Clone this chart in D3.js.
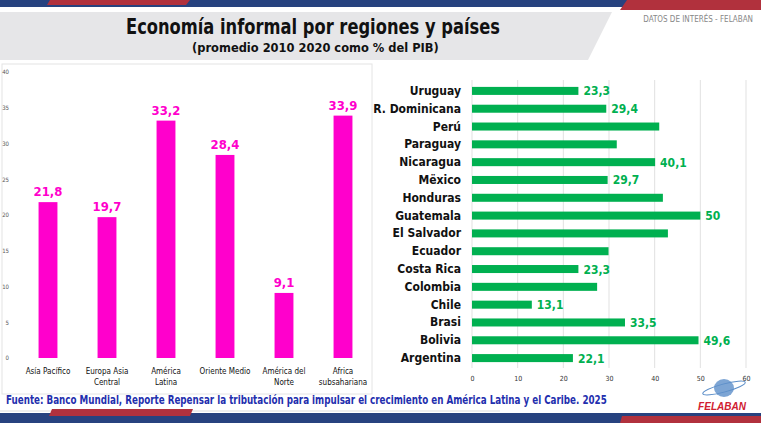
<!DOCTYPE html>
<html><head><meta charset="utf-8">
<script src="https://cdn.jsdelivr.net/npm/d3@7"></script>
<style>body{margin:0;background:#fff}svg{display:block}</style>
</head><body>
<svg id="c" width="761" height="423"></svg>
<script>
// left chart: regions
var regions = ["Asía Pacífico", "Europa Asia|Central", "América|Latina", "Oriente Medio", "América del|Norte", "Africa|subsahariana"];
var regionValues = [21.8, 19.7, 33.2, 28.4, 9.1, 33.9];
var regionTicks = [0, 5, 10, 15, 20, 25, 30, 35, 40];

// right chart: countries (top to bottom)
var countries = ["Uruguay", "R. Dominicana", "Perú", "Paraguay", "Nicaragua", "Mëxico", "Honduras", "Guatemala", "El Salvador", "Ecuador", "Costa Rica", "Colombia", "Chile", "Brasi", "Bolivia", "Argentina"];
var countryValues = [23.3, 29.4, 41, 31.7, 40.1, 29.7, 41.8, 50, 42.9, 29.9, 23.3, 27.4, 13.1, 33.5, 49.6, 22.1];
var countryLabels = ["23,3", "29,4", "", "", "40,1", "29,7", "", "50", "", "", "23,3", "", "13,1", "33,5", "49,6", "22,1"];
var countryTicks = [0, 10, 20, 30, 40, 50, 60];

var svg = d3.select("#c");
var narrow = "'DejaVu Sans Condensed', 'Liberation Sans Narrow', sans-serif";

// squeeze a text horizontally to a target width (scale, so its box shrinks too)
function fitWidth(sel, x, y, w) {
  var len = sel.node().getComputedTextLength();
  sel.attr("transform", "translate(" + x + "," + y + ") scale(" + (w / len) + ",1)");
}

// header decoration
svg.append("rect").attr("x", 0).attr("y", 0).attr("width", 761).attr("height", 7).attr("fill", "#27427f");
svg.append("path").attr("d", "M50,0 L190,0 L186,5 L47,5 Z").attr("fill", "#b1313d");
svg.append("path").attr("d", "M627,0 L761,0 L761,10 L620,10 Z").attr("fill", "#b1313d");
svg.append("path").attr("d", "M0,12 L612,12 L588,60 L0,60 Z").attr("fill", "#e6e6e8");
fitWidth(svg.append("text")
  .style("font-family", narrow).style("font-size", "21px").style("font-weight", "bold").attr("fill", "#111")
  .text("Economía informal por regiones y países"), 126, 34, 374);
fitWidth(svg.append("text")
  .style("font-family", narrow).style("font-size", "13px").style("font-weight", "bold").attr("fill", "#111")
  .text("(promedio 2010 2020 como % del PIB)"), 192, 52, 247);
svg.append("text").attr("x", 753).attr("y", 22).attr("text-anchor", "end")
  .style("font-family", narrow).style("font-size", "8px").attr("fill", "#888")
  .text("DATOS DE INTERÉS - FELABAN");

// left panel border
svg.append("rect").attr("x", 2).attr("y", 64).attr("width", 370).attr("height", 330)
  .attr("fill", "none").attr("stroke", "#e4e4e4");

// left chart
var lx = d3.scaleBand().domain(regions).range([18.5, 372.5]).paddingInner(0.68).paddingOuter(0.34);
var ly = d3.scaleLinear().domain([0, 40]).range([358, 72]);
var lg = svg.append("g");
lg.append("g").attr("transform", "translate(12,0)")
  .call(d3.axisLeft(ly).tickValues(regionTicks).tickSize(0))
  .call(function (g) { g.select(".domain").remove(); })
  .selectAll("text").style("font-family", narrow).style("font-size", "6px").attr("fill", "#555");
lg.selectAll("rect.bar").data(regionValues).enter().append("rect")
  .attr("x", function (d, i) { return lx(regions[i]); })
  .attr("y", function (d) { return ly(d); })
  .attr("width", lx.bandwidth())
  .attr("height", function (d) { return ly(0) - ly(d); })
  .attr("fill", "#ff00cc");
lg.selectAll("text.val").data(regionValues).enter().append("text")
  .attr("x", function (d, i) { return lx(regions[i]) + lx.bandwidth() / 2; })
  .attr("y", function (d) { return ly(d) - 6; })
  .attr("text-anchor", "middle").style("font-family", narrow).style("font-size", "13px")
  .style("font-weight", "bold").attr("fill", "#ff00cc")
  .text(function (d) { return String(d).replace(".", ","); });
regions.forEach(function (r, i) {
  var t = lg.append("text").attr("x", lx(r) + lx.bandwidth() / 2).attr("y", 374)
    .attr("text-anchor", "middle").style("font-family", narrow).style("font-size", "8px").attr("fill", "#111");
  r.split("|").forEach(function (s, j) {
    t.append("tspan").attr("x", lx(r) + lx.bandwidth() / 2).attr("dy", j ? 11 : 0).text(s);
  });
});

// right chart
var rx = d3.scaleLinear().domain([0, 60]).range([472, 746]);
var ry = d3.scaleBand().domain(countries).range([82, 367]).paddingInner(0.55).paddingOuter(0.275);
var rg = svg.append("g");
rg.selectAll("line.grid").data(countryTicks).enter().append("line")
  .attr("x1", function (d) { return rx(d); }).attr("x2", function (d) { return rx(d); })
  .attr("y1", 80).attr("y2", 368).attr("stroke", "#d9d9d9").attr("stroke-width", 0.8);
rg.append("g").attr("transform", "translate(0,368)")
  .call(d3.axisBottom(rx).tickValues(countryTicks).tickSize(0).tickPadding(8))
  .call(function (g) { g.select(".domain").remove(); })
  .selectAll("text").style("font-family", narrow).style("font-size", "7px").attr("fill", "#333");
rg.selectAll("rect.bar").data(countryValues).enter().append("rect")
  .attr("x", rx(0))
  .attr("y", function (d, i) { return ry(countries[i]); })
  .attr("width", function (d) { return rx(d) - rx(0); })
  .attr("height", ry.bandwidth())
  .attr("fill", "#00b050");
rg.selectAll("text.name").data(countries).enter().append("text")
  .attr("x", 461).attr("y", function (d) { return ry(d) + ry.bandwidth() / 2 + 4; })
  .attr("text-anchor", "end").style("font-family", narrow).style("font-size", "12px")
  .style("font-weight", "bold").attr("fill", "#111").text(function (d) { return d; });
rg.selectAll("text.val").data(countryValues).enter().append("text")
  .attr("x", function (d) { return rx(d) + 5; })
  .attr("y", function (d, i) { return ry(countries[i]) + ry.bandwidth() / 2 + 4.5; })
  .style("font-family", narrow).style("font-size", "12px").style("font-weight", "bold").attr("fill", "#00b050")
  .text(function (d, i) { return countryLabels[i]; });

// footer
fitWidth(svg.append("text")
  .style("font-family", narrow).style("font-size", "12px").style("font-weight", "bold").attr("fill", "#1f2fae")
  .text("Fuente: Banco Mundial, Reporte Repensar la tributación para impulsar el crecimiento en América Latina y el Caribe. 2025"), 6, 404, 602);
svg.append("line").attr("x1", 0).attr("x2", 500).attr("y1", 411).attr("y2", 411).attr("stroke", "#ddd");
svg.append("rect").attr("x", 0).attr("y", 413).attr("width", 761).attr("height", 10).attr("fill", "#27427f");
svg.append("path").attr("d", "M52,409 L193,409 L190,416 L49,416 Z").attr("fill", "#b1313d");
svg.append("path").attr("d", "M622,416 L761,416 L761,423 L620,423 Z").attr("fill", "#b1313d");
// logo
svg.append("ellipse").attr("cx", 724).attr("cy", 388).attr("rx", 10).attr("ry", 9).attr("fill", "#5d8fc9").attr("opacity", 0.8);
svg.append("ellipse").attr("cx", 724).attr("cy", 388).attr("rx", 22).attr("ry", 4).attr("fill", "none")
  .attr("stroke", "#5d8fc9").attr("transform", "rotate(-15,724,388)");
svg.append("text").attr("x", 722).attr("y", 410).attr("text-anchor", "middle")
  .style("font-family", "'Liberation Sans', sans-serif").style("font-size", "10px").style("font-weight", "bold")
  .style("font-style", "italic").attr("fill", "#d02030").text("FELABAN");
</script>
</body></html>
